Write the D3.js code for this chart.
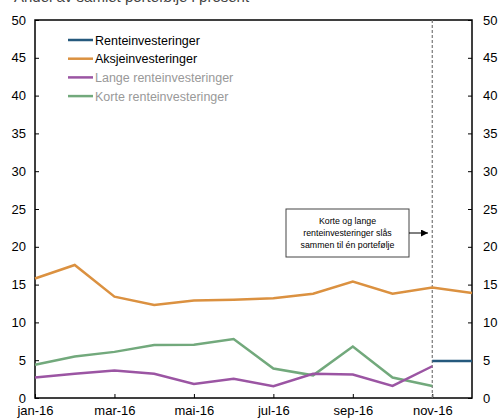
<!DOCTYPE html>
<html>
<head>
<meta charset="utf-8">
<script src="https://cdn.jsdelivr.net/npm/d3@7"></script>
<style>
  html, body { margin: 0; padding: 0; background: #fff; }
  svg { display: block; font-family: "Liberation Sans", Arial, sans-serif; }
</style>
</head>
<body>
<svg id="chart" width="500" height="420"></svg>
<script>
// Months on the x axis (2016)
const months = ["jan-16","feb-16","mar-16","apr-16","mai-16","jun-16","jul-16","aug-16","sep-16","okt-16","nov-16","des-16"];
const tickMonths = ["jan-16","mar-16","mai-16","jul-16","sep-16","nov-16"];
const yTicks = [0,5,10,15,20,25,30,35,40,45,50];

// Series values, percent
const aksje = [15.8, 17.6, 13.4, 12.3, 12.9, 13.0, 13.2, 13.8, 15.4, 13.8, 14.6, 13.9];
const korte = [4.4, 5.5, 6.1, 7.0, 7.05, 7.8, 3.9, 3.0, 6.8, 2.7, 1.6];
const lange = [2.7, 3.2, 3.65, 3.2, 1.85, 2.55, 1.55, 3.2, 3.1, 1.6, 4.2];
const rente = [null, null, null, null, null, null, null, null, null, null, 4.9, 4.9];

const seriesNames = ["Renteinvesteringer", "Aksjeinvesteringer", "Lange renteinvesteringer", "Korte renteinvesteringer"];
const seriesColors = ["#25597d", "#db9140", "#9b55a3", "#72a97c"];
const legendTextColors = ["#000", "#000", "#999", "#999"];

const titleText = "Andel av samlet portefølje i prosent";
const noteLines = ["Korte og lange", "renteinvesteringer slås", "sammen til én portefølje"];
const mergeMonth = "nov-16";

const svg = d3.select("#chart");
const plotLeft = 35, plotRight = 472, plotTop = 20, plotBottom = 398;

const x = d3.scalePoint().domain(months).range([plotLeft, plotRight]);
const y = d3.scaleLinear().domain([0, 50]).range([plotBottom, plotTop]);

// Title (sits mostly above the visible area)
svg.append("text")
  .attr("x", 14).attr("y", 1.5)
  .attr("font-size", 15).attr("fill", "#444")
  .text(titleText);

// Plot frame
svg.append("rect")
  .attr("x", plotLeft).attr("y", plotTop)
  .attr("width", plotRight - plotLeft).attr("height", plotBottom - plotTop)
  .attr("fill", "none").attr("stroke", "#000").attr("stroke-width", 1.5);

// Axes
const axL = svg.append("g").attr("transform", `translate(${plotLeft},0)`)
  .call(d3.axisLeft(y).tickValues(yTicks).tickSizeInner(-4).tickSizeOuter(0).tickPadding(10));
const axR = svg.append("g").attr("transform", `translate(${plotRight},0)`)
  .call(d3.axisRight(y).tickValues(yTicks).tickSizeInner(-4).tickSizeOuter(0).tickPadding(10));
const axB = svg.append("g").attr("transform", `translate(0,${plotBottom})`)
  .call(d3.axisBottom(x).tickValues(tickMonths).tickSizeInner(-4).tickSizeOuter(0).tickPadding(7));

[axL, axR, axB].forEach(g => {
  g.select(".domain").remove();
  g.selectAll(".tick line").attr("stroke", "#000").attr("stroke-width", 1);
  g.selectAll(".tick text").attr("font-size", 13).attr("fill", "#000")
    .attr("font-family", "'Liberation Sans', Arial, sans-serif");
});
axL.selectAll(".tick text").attr("x", -9);
axR.selectAll(".tick text").attr("x", 11);
axB.selectAll(".tick text").attr("y", 8);

// Dashed marker where the two fixed income portfolios merge
svg.append("line")
  .attr("x1", x(mergeMonth)).attr("x2", x(mergeMonth))
  .attr("y1", plotTop).attr("y2", plotBottom)
  .attr("stroke", "#777").attr("stroke-width", 1.2)
  .attr("stroke-dasharray", "3,2");

// Lines
const data = [rente, aksje, lange, korte];
const line = d3.line()
  .defined(d => d != null)
  .x((d, i) => x(months[i]))
  .y(d => y(d));

// Draw order: short, long, equity, fixed income
[3, 2, 1, 0].forEach(k => {
  svg.append("path")
    .datum(data[k])
    .attr("d", line)
    .attr("fill", "none")
    .attr("stroke", seriesColors[k])
    .attr("stroke-width", 2.5)
    .attr("stroke-linejoin", "miter");
});

// Legend
const leg = svg.append("g");
seriesNames.forEach((name, i) => {
  const ly = 40 + i * 18.7;
  leg.append("line")
    .attr("x1", 68).attr("x2", 93).attr("y1", ly).attr("y2", ly)
    .attr("stroke", seriesColors[i]).attr("stroke-width", 2.5);
  leg.append("text")
    .attr("x", 95).attr("y", ly + 4.5)
    .attr("font-size", 12.5).attr("fill", legendTextColors[i])
    .text(name);
});

// Annotation box with arrow
svg.append("defs").append("marker")
  .attr("id", "arrowhead")
  .attr("viewBox", "0 0 10 10").attr("refX", 10).attr("refY", 5)
  .attr("markerWidth", 7).attr("markerHeight", 7)
  .attr("orient", "auto")
  .append("path").attr("d", "M0,0 L10,5 L0,10 Z").attr("fill", "#000");

svg.append("rect")
  .attr("x", 286).attr("y", 209).attr("width", 123).attr("height", 48)
  .attr("fill", "#fff").attr("stroke", "#444").attr("stroke-width", 1);
noteLines.forEach((t, i) => {
  svg.append("text")
    .attr("x", 347.5).attr("y", 224 + i * 12)
    .attr("text-anchor", "middle")
    .attr("font-size", 8.8).attr("fill", "#000")
    .text(t);
});
svg.append("line")
  .attr("x1", 409).attr("x2", 428).attr("y1", 233).attr("y2", 233)
  .attr("stroke", "#000").attr("stroke-width", 1)
  .attr("marker-end", "url(#arrowhead)");
</script>
</body>
</html>
